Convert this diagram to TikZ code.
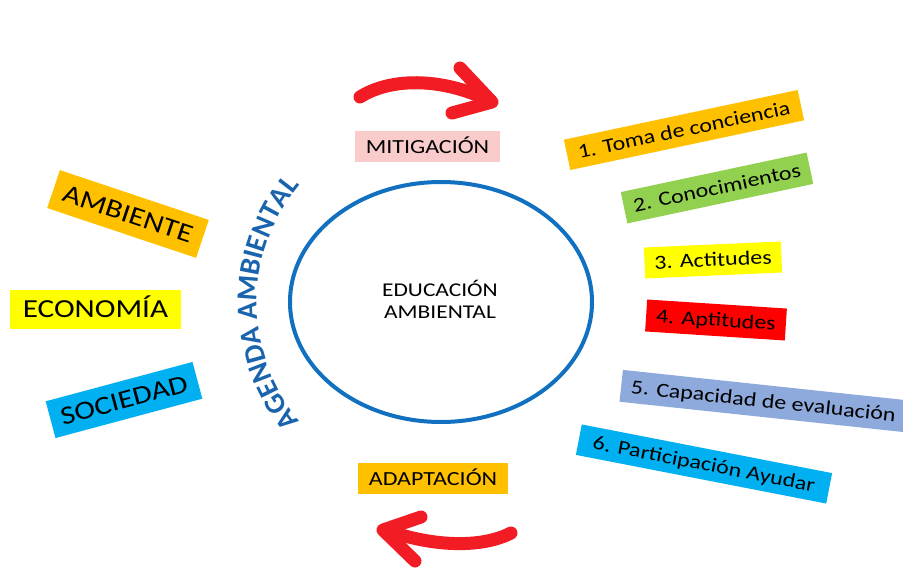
\documentclass[tikz,border=0pt]{standalone}
\usepackage{fontspec}
\setmainfont{Carlito}[FakeStretch=1.2]
\newfontfamily\agfont{Carlito}
\usetikzlibrary{decorations.text,shapes.geometric}
\definecolor{gold}{HTML}{FFC000}
\definecolor{yel}{HTML}{FFFF00}
\definecolor{cyanb}{HTML}{00B0F0}
\definecolor{greenb}{HTML}{92D050}
\definecolor{redb}{HTML}{FF0000}
\definecolor{periw}{HTML}{8EA9DB}
\definecolor{pinkb}{HTML}{F9CBCB}
\definecolor{arrowred}{HTML}{F21C24}
\definecolor{elblue}{HTML}{1170BF}
\definecolor{agblue}{HTML}{1A64AE}
\tikzset{
  lbl/.style={inner sep=0pt, minimum height=31pt, align=center,
    font=\fontsize{20}{22}\selectfont, text height=15pt, text depth=2pt},
  biglbl/.style={lbl, font=\fontsize{26}{28}\selectfont, text height=19pt, text depth=2pt},
  redarrow/.style={draw=arrowred, line width=13pt, line cap=round, line join=round}
}
\begin{document}
\begin{tikzpicture}[x=1pt,y=1pt]
\useasboundingbox[fill=white] (0,0) rectangle (903,-569);

% central ellipse
\node[draw=elblue, line width=4pt, ellipse, minimum width=302pt, minimum height=240pt, inner sep=0pt] (edu) at (441,-302) {};
\node[font=\fontsize{19.5}{22}\selectfont, align=center] (edut) at (440,-299) {EDUCACIÓN\\AMBIENTAL};

% arc text
\path[decorate, decoration={text along path, text align=center,
  text color=agblue,
  text={|\agfont\fontsize{29}{29}\bfseries|AGENDA AMBIENTAL}}]
  (441,-303) ++(226:184) arc[start angle=226, end angle=134, radius=184];

% top and bottom labels
\node[lbl, fill=pinkb, minimum width=145pt] (mit) at (427.5,-147) {MITIGACIÓN};
\node[lbl, fill=gold, minimum width=150pt] (ada) at (433,-478.5) {ADAPTACIÓN};

% arrows
\coordinate (t1) at (360,-97);
\coordinate (t2) at (488,-100);
\coordinate (th1) at (460,-68);
\coordinate (th2) at (492,-102);
\coordinate (th3) at (452,-113);
\draw[redarrow] (t1) .. controls (390,-78) and (440,-77) .. (t2);
\draw[redarrow] (th1) -- (th2) -- (th3);

\coordinate (b1) at (511,-533);
\coordinate (b2) at (386,-530);
\coordinate (bh1) at (421,-517);
\coordinate (bh2) at (383,-530);
\coordinate (bh3) at (415,-561);
\draw[redarrow] (b1) .. controls (480,-549) and (430,-546) .. (b2);
\draw[redarrow] (bh1) -- (bh2) -- (bh3);

% left boxes
\node[biglbl, fill=gold, minimum width=157pt, minimum height=40pt, rotate=-18.5] (amb) at (128,-214) {AMBIENTE};
\node[biglbl, fill=yel, minimum width=171pt, minimum height=39pt] (eco) at (95.5,-309.5) {ECONOMÍA};
\node[biglbl, fill=cyanb, minimum width=152pt, minimum height=38pt, rotate=15] (soc) at (124,-400) {SOCIEDAD};

% right boxes
\node[lbl, fill=gold, minimum width=239pt, rotate=12] (r1) at (684,-130) {1. Toma de conciencia};
\node[lbl, fill=greenb, minimum width=190pt, minimum height=32pt, rotate=12] (r2) at (717,-188) {2. Conocimientos};
\node[lbl, fill=yel, minimum width=137pt, rotate=2.5] (r3) at (713,-260) {3. Actitudes};
\node[lbl, fill=redb, minimum width=140pt, minimum height=32pt, rotate=-3.7] (r4) at (716,-320) {4. Aptitudes};
\node[lbl, fill=periw, minimum width=286pt, minimum height=32pt, rotate=-6.1] (r5) at (763.4,-401) {5. Capacidad de evaluación};
\node[lbl, fill=cyanb, minimum width=255pt, rotate=-11] (r6) at (704,-464) {6. Participación Ayudar};
\end{tikzpicture}
\end{document}
